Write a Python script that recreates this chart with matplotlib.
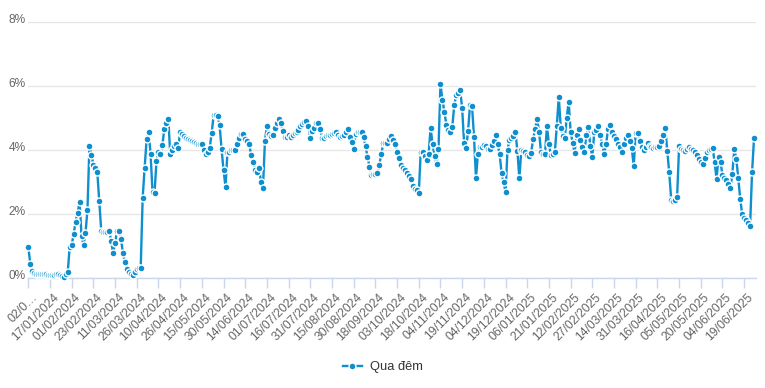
import matplotlib
matplotlib.use('Agg')
import matplotlib.pyplot as plt
from matplotlib.transforms import ScaledTranslation
from matplotlib.lines import Line2D

series_name = "Qua đêm"

overnight_rate = [
    0.98, 0.46, 0.22, 0.18, 0.15, 0.14, 0.13, 0.12, 0.12, 0.12,
    0.11, 0.11, 0.10, 0.10, 0.12, 0.14, 0.10, 0.06, 0.05, 0.12,
    0.19, 0.99, 1.04, 1.38, 1.77, 2.05, 2.38, 1.32, 1.04, 1.41,
    2.14, 4.13, 3.86, 3.55, 3.45, 3.31, 2.42, 1.48, 1.46, 1.45,
    1.46, 1.49, 1.17, 0.78, 1.10, 1.49, 1.49, 1.22, 0.80, 0.50,
    0.30, 0.20, 0.15, 0.10, 0.20, 0.28, 0.32, 0.33, 2.52, 3.46,
    4.34, 4.58, 3.90, 2.69, 2.66, 3.66, 3.96, 3.87, 4.17, 4.68,
    4.85, 4.97, 3.87, 4.00, 4.12, 4.20, 4.08, 4.56, 4.50, 4.45,
    4.40, 4.35, 4.32, 4.28, 4.25, 4.22, 4.20, 4.20, 4.20, 4.00,
    3.88, 3.95, 4.07, 4.55, 5.10, 5.10, 5.06, 4.79, 4.04, 3.38,
    2.86, 3.96, 3.95, 4.00, 4.00, 4.00, 4.20, 4.40, 4.50, 4.50,
    4.35, 4.30, 4.20, 3.85, 3.62, 3.40, 3.33, 3.44, 3.02, 2.83,
    4.30, 4.76, 4.50, 4.45, 4.48, 4.69, 4.85, 4.97, 4.86, 4.61,
    4.42, 4.42, 4.48, 4.43, 4.48, 4.53, 4.58, 4.65, 4.76, 4.82,
    4.88, 4.93, 4.76, 4.37, 4.60, 4.69, 4.84, 4.86, 4.66, 4.37,
    4.40, 4.45, 4.48, 4.48, 4.50, 4.55, 4.58, 4.48, 4.43, 4.45,
    4.48, 4.58, 4.67, 4.43, 4.25, 4.03, 4.50, 4.56, 4.57, 4.56,
    4.43, 4.13, 3.80, 3.49, 3.24, 3.25, 3.27, 3.28, 3.55, 3.88,
    4.22, 4.22, 4.24, 4.35, 4.46, 4.32, 4.19, 3.96, 3.76, 3.53,
    3.45, 3.38, 3.28, 3.20, 3.10, 2.90, 2.80, 2.75, 2.66, 3.96,
    3.95, 3.83, 3.70, 3.89, 4.69, 4.20, 3.82, 3.56, 4.04, 6.06,
    5.58, 5.20, 4.80, 4.65, 4.56, 4.73, 5.42, 5.73, 5.80, 5.89,
    5.31, 4.22, 4.07, 4.60, 5.43, 5.39, 4.43, 3.13, 3.90, 4.10,
    4.10, 4.16, 4.12, 4.05, 4.03, 4.17, 4.30, 4.48, 4.20, 3.89,
    3.28, 3.00, 2.70, 4.01, 4.32, 4.40, 4.45, 4.58, 3.98, 3.13,
    4.00, 3.98, 3.96, 3.85, 3.81, 3.93, 4.35, 4.66, 4.97, 4.57,
    3.94, 3.90, 3.88, 4.75, 4.20, 3.85, 3.90, 3.94, 4.76, 5.68,
    4.69, 4.45, 4.37, 5.00, 5.52, 4.58, 4.24, 3.93, 4.48, 4.66,
    4.32, 4.10, 3.96, 4.48, 4.72, 4.13, 3.80, 4.58, 4.65, 4.76,
    4.48, 4.20, 3.90, 4.20, 4.66, 4.79, 4.58, 4.45, 4.35, 4.20,
    4.10, 3.96, 4.20, 4.37, 4.48, 4.30, 4.06, 3.52, 4.53, 4.55,
    4.30, 4.10, 4.00, 4.10, 4.22, 4.15, 4.10, 4.08, 4.10, 4.10,
    4.12, 4.30, 4.48, 4.71, 3.98, 3.31, 2.46, 2.42, 2.45, 2.55,
    4.12, 4.05, 4.00, 3.98, 4.05, 4.10, 4.05, 4.00, 3.94, 3.85,
    3.74, 3.65, 3.58, 3.75, 3.94, 4.00, 4.05, 4.08, 3.64, 3.10,
    3.80, 3.63, 3.23, 3.15, 3.07, 2.95, 2.83, 3.26, 4.04, 3.73,
    3.14, 2.48, 2.00, 1.90, 1.82, 1.72, 1.63, 3.31, 4.37,
]

tick_labels = [
    "02/0…", "17/01/2024", "01/02/2024", "23/02/2024", "11/03/2024",
    "26/03/2024", "10/04/2024", "26/04/2024", "15/05/2024", "30/05/2024",
    "14/06/2024", "01/07/2024", "16/07/2024", "31/07/2024", "15/08/2024",
    "30/08/2024", "18/09/2024", "03/10/2024", "18/10/2024", "04/11/2024",
    "19/11/2024", "04/12/2024", "19/12/2024", "06/01/2025", "21/01/2025",
    "12/02/2025", "27/02/2025", "14/03/2025", "31/03/2025", "16/04/2025",
    "05/05/2025", "20/05/2025", "04/06/2025", "19/06/2025",
]
tick_step = 11
y_ticks = [0, 2, 4, 6, 8]

plt.rcParams['font.family'] = ['Liberation Sans', 'DejaVu Sans']

W, H = 765, 388
fig = plt.figure(figsize=(W / 100, H / 100), dpi=100)
left_px, right_px, top_px, bottom_px = 28, 756, 22.3, 278.3
ax = fig.add_axes([left_px / W, (H - bottom_px) / H,
                   (right_px - left_px) / W, (bottom_px - top_px) / H])

color = '#0e8fcf'
x = list(range(len(overnight_rate)))
ax.plot(x, overnight_rate, color=color, lw=1.7, marker='o', ms=5.0,
        mfc=color, mec='white', mew=1.0, clip_on=False, zorder=3)

ax.set_xlim(-0.15, 369)
ax.set_ylim(0, 8)
ax.set_yticks(y_ticks)
ax.set_yticklabels([f"{v}%" for v in y_ticks])
ax.yaxis.grid(True, color='#e6e6e6', lw=1)
ax.set_axisbelow(True)
for s in ['top', 'right', 'left']:
    ax.spines[s].set_visible(False)
ax.spines['bottom'].set_color('#ccd6eb')
ax.spines['bottom'].set_linewidth(1)

ax.tick_params(axis='y', length=0, pad=1.5, labelsize=8.6, labelcolor='#666666')
ax.tick_params(axis='x', length=7.2, width=1, color='#ccd6eb', direction='out',
               labelsize=8.8, labelcolor='#666666', pad=2)
ticks = [i * tick_step for i in range(len(tick_labels))]
ax.set_xticks(ticks)
ax.set_xticklabels(tick_labels, rotation=45, ha='right', rotation_mode='anchor')

for lbl in ax.get_yticklabels():
    lbl.set_transform(lbl.get_transform() + ScaledTranslation(0, 3.5 / 100, fig.dpi_scale_trans))
for lbl in ax.get_xticklabels():
    lbl.set_transform(lbl.get_transform() + ScaledTranslation(3 / 100, 0, fig.dpi_scale_trans))

handle = Line2D([], [], color=color, lw=1.7, marker='o', ms=5.0, mfc=color, mec='white', mew=1.0)
fig.legend(handles=[handle], labels=[series_name], loc='center',
           bbox_to_anchor=(0.5, 21 / H), frameon=False, fontsize=9.3,
           handlelength=1.5, handletextpad=0.6, labelcolor='#333333')

fig.savefig('out.png', dpi=100)
